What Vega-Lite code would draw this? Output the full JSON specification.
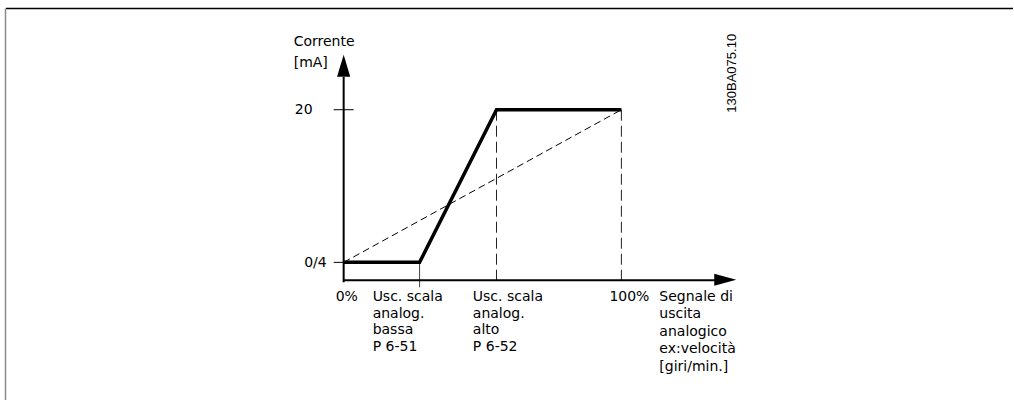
{
  "$schema": "https://vega.github.io/schema/vega-lite/v6.json",
  "width": 1014,
  "height": 401,
  "autosize": {"type": "fit", "contains": "padding"},
  "padding": 0,
  "background": "white",
  "config": {"view": {"stroke": null}},
  "datasets": {
    "curve": [
      {"pct": 0, "mA": 4, "o": 1},
      {"pct": 27.34, "mA": 4, "o": 2},
      {"pct": 55.04, "mA": 20, "o": 3},
      {"pct": 100, "mA": 20, "o": 4}
    ],
    "axes": [
      {"pct": 0, "mA": 1.91, "pct2": 0, "mA2": 23.45},
      {"pct": 0, "mA": 2.118, "pct2": 134.5, "mA2": 2.118}
    ],
    "ticks": [
      {"pct": -3.6, "mA": 20, "pct2": 3.6, "mA2": 20},
      {"pct": -3.6, "mA": 4, "pct2": 0, "mA2": 4}
    ],
    "lowmark": [
      {"pct": 27.34, "mA": 4, "pct2": 27.34, "mA2": 1.386}
    ],
    "guides": [
      {"pct": 55.04, "mA": 20, "pct2": 55.04, "mA2": 1.91},
      {"pct": 100, "mA": 20, "pct2": 100, "mA2": 1.91}
    ],
    "linear": [
      {"pct": 0, "mA": 4, "pct2": 100, "mA2": 20}
    ],
    "arrows": [
      {"pct": 0, "mA": 24.6, "dir": "up"},
      {"pct": 137.4, "mA": 2.17, "dir": "right"}
    ],
    "frameTop": [
      {"pct": -121.58, "mA": 30.61, "pct2": 241.0, "mA2": 30.61}
    ],
    "frameLeft": [
      {"pct": -121.76, "mA": 30.61, "pct2": -121.76, "mA2": -10.43}
    ],
    "labelsRight": [
      {"pct": -11.15, "mA": 20, "text": "20"},
      {"pct": -6.115, "mA": 3.95, "text": "0/4"}
    ],
    "labelsLeft": [
      {"pct": -17.99, "mA": 27.14, "text": "Corrente"},
      {"pct": -17.99, "mA": 24.95, "text": "[mA]"},
      {"pct": -2.878, "mA": 0.371, "text": "0%"},
      {"pct": 10.43, "mA": 0.371, "text": "Usc. scala"},
      {"pct": 10.43, "mA": -1.386, "text": "analog."},
      {"pct": 10.43, "mA": -3.143, "text": "bassa"},
      {"pct": 10.43, "mA": -4.899, "text": "P 6-51"},
      {"pct": 46.51, "mA": 0.371, "text": "Usc. scala"},
      {"pct": 46.51, "mA": -1.386, "text": "analog."},
      {"pct": 46.51, "mA": -3.143, "text": "alto"},
      {"pct": 46.51, "mA": -4.899, "text": "P 6-52"},
      {"pct": 95.68, "mA": 0.371, "text": "100%"},
      {"pct": 113.67, "mA": 0.392, "text": "Segnale di"},
      {"pct": 113.67, "mA": -1.438, "text": "uscita"},
      {"pct": 113.67, "mA": -3.278, "text": "analogico"},
      {"pct": 113.67, "mA": -5.098, "text": "ex:velocità"},
      {"pct": 113.67, "mA": -6.939, "text": "[giri/min.]"}
    ],
    "code": [
      {"pct": 139.93, "mA": 23.82, "text": "130BA075.10"}
    ]
  },
  "encoding": {
    "x": {"field": "pct", "type": "quantitative", "scale": {"domain": [-123.741, 241.007], "nice": false, "zero": false}, "axis": null},
    "y": {"field": "mA", "type": "quantitative", "scale": {"domain": [-10.431, 31.503], "nice": false, "zero": false}, "axis": null}
  },
  "layer": [
    {
      "data": {"name": "frameTop"},
      "mark": {"type": "rule", "color": "#000000", "strokeWidth": 1.5},
      "encoding": {"x2": {"field": "pct2"}, "y2": {"field": "mA2"}}
    },
    {
      "data": {"name": "frameLeft"},
      "mark": {"type": "rule", "color": "#8a8a8a", "strokeWidth": 1.5},
      "encoding": {"x2": {"field": "pct2"}, "y2": {"field": "mA2"}}
    },
    {
      "data": {"name": "guides"},
      "mark": {"type": "rule", "color": "#222222", "strokeWidth": 1, "strokeDash": [11, 5]},
      "encoding": {"x2": {"field": "pct2"}, "y2": {"field": "mA2"}}
    },
    {
      "data": {"name": "linear"},
      "mark": {"type": "rule", "color": "#000000", "strokeWidth": 1, "strokeDash": [7, 4]},
      "encoding": {"x2": {"field": "pct2"}, "y2": {"field": "mA2"}}
    },
    {
      "data": {"name": "lowmark"},
      "mark": {"type": "rule", "color": "#444444", "strokeWidth": 1},
      "encoding": {"x2": {"field": "pct2"}, "y2": {"field": "mA2"}}
    },
    {
      "data": {"name": "ticks"},
      "mark": {"type": "rule", "color": "#000000", "strokeWidth": 1},
      "encoding": {"x2": {"field": "pct2"}, "y2": {"field": "mA2"}}
    },
    {
      "data": {"name": "axes"},
      "mark": {"type": "rule", "color": "#000000", "strokeWidth": 2},
      "encoding": {"x2": {"field": "pct2"}, "y2": {"field": "mA2"}}
    },
    {
      "data": {"name": "curve"},
      "mark": {"type": "line", "color": "#000000", "strokeWidth": 3.5, "strokeJoin": "miter", "strokeCap": "butt"},
      "encoding": {"order": {"field": "o", "type": "quantitative"}}
    },
    {
      "data": {"name": "arrows"},
      "mark": {"type": "point", "filled": true, "color": "#000000", "opacity": 1, "size": 484, "strokeWidth": 0},
      "encoding": {
        "shape": {"field": "dir", "type": "nominal", "scale": {"domain": ["up", "right"], "range": ["M0,-1L0.6,1L-0.6,1Z", "M1,0L-1,-0.55L-1,0.55Z"]}, "legend": null}
      }
    },
    {
      "data": {"name": "labelsRight"},
      "mark": {"type": "text", "align": "right", "baseline": "middle", "font": "DejaVu Sans", "fontSize": 14, "color": "#000000"},
      "encoding": {"text": {"field": "text", "type": "nominal"}}
    },
    {
      "data": {"name": "labelsLeft"},
      "mark": {"type": "text", "align": "left", "baseline": "middle", "font": "DejaVu Sans", "fontSize": 14, "color": "#000000"},
      "encoding": {"text": {"field": "text", "type": "nominal"}}
    },
    {
      "data": {"name": "code"},
      "mark": {"type": "text", "align": "center", "baseline": "middle", "angle": 270, "font": "Liberation Sans", "fontSize": 13, "color": "#000000"},
      "encoding": {"text": {"field": "text", "type": "nominal"}}
    }
  ]
}
